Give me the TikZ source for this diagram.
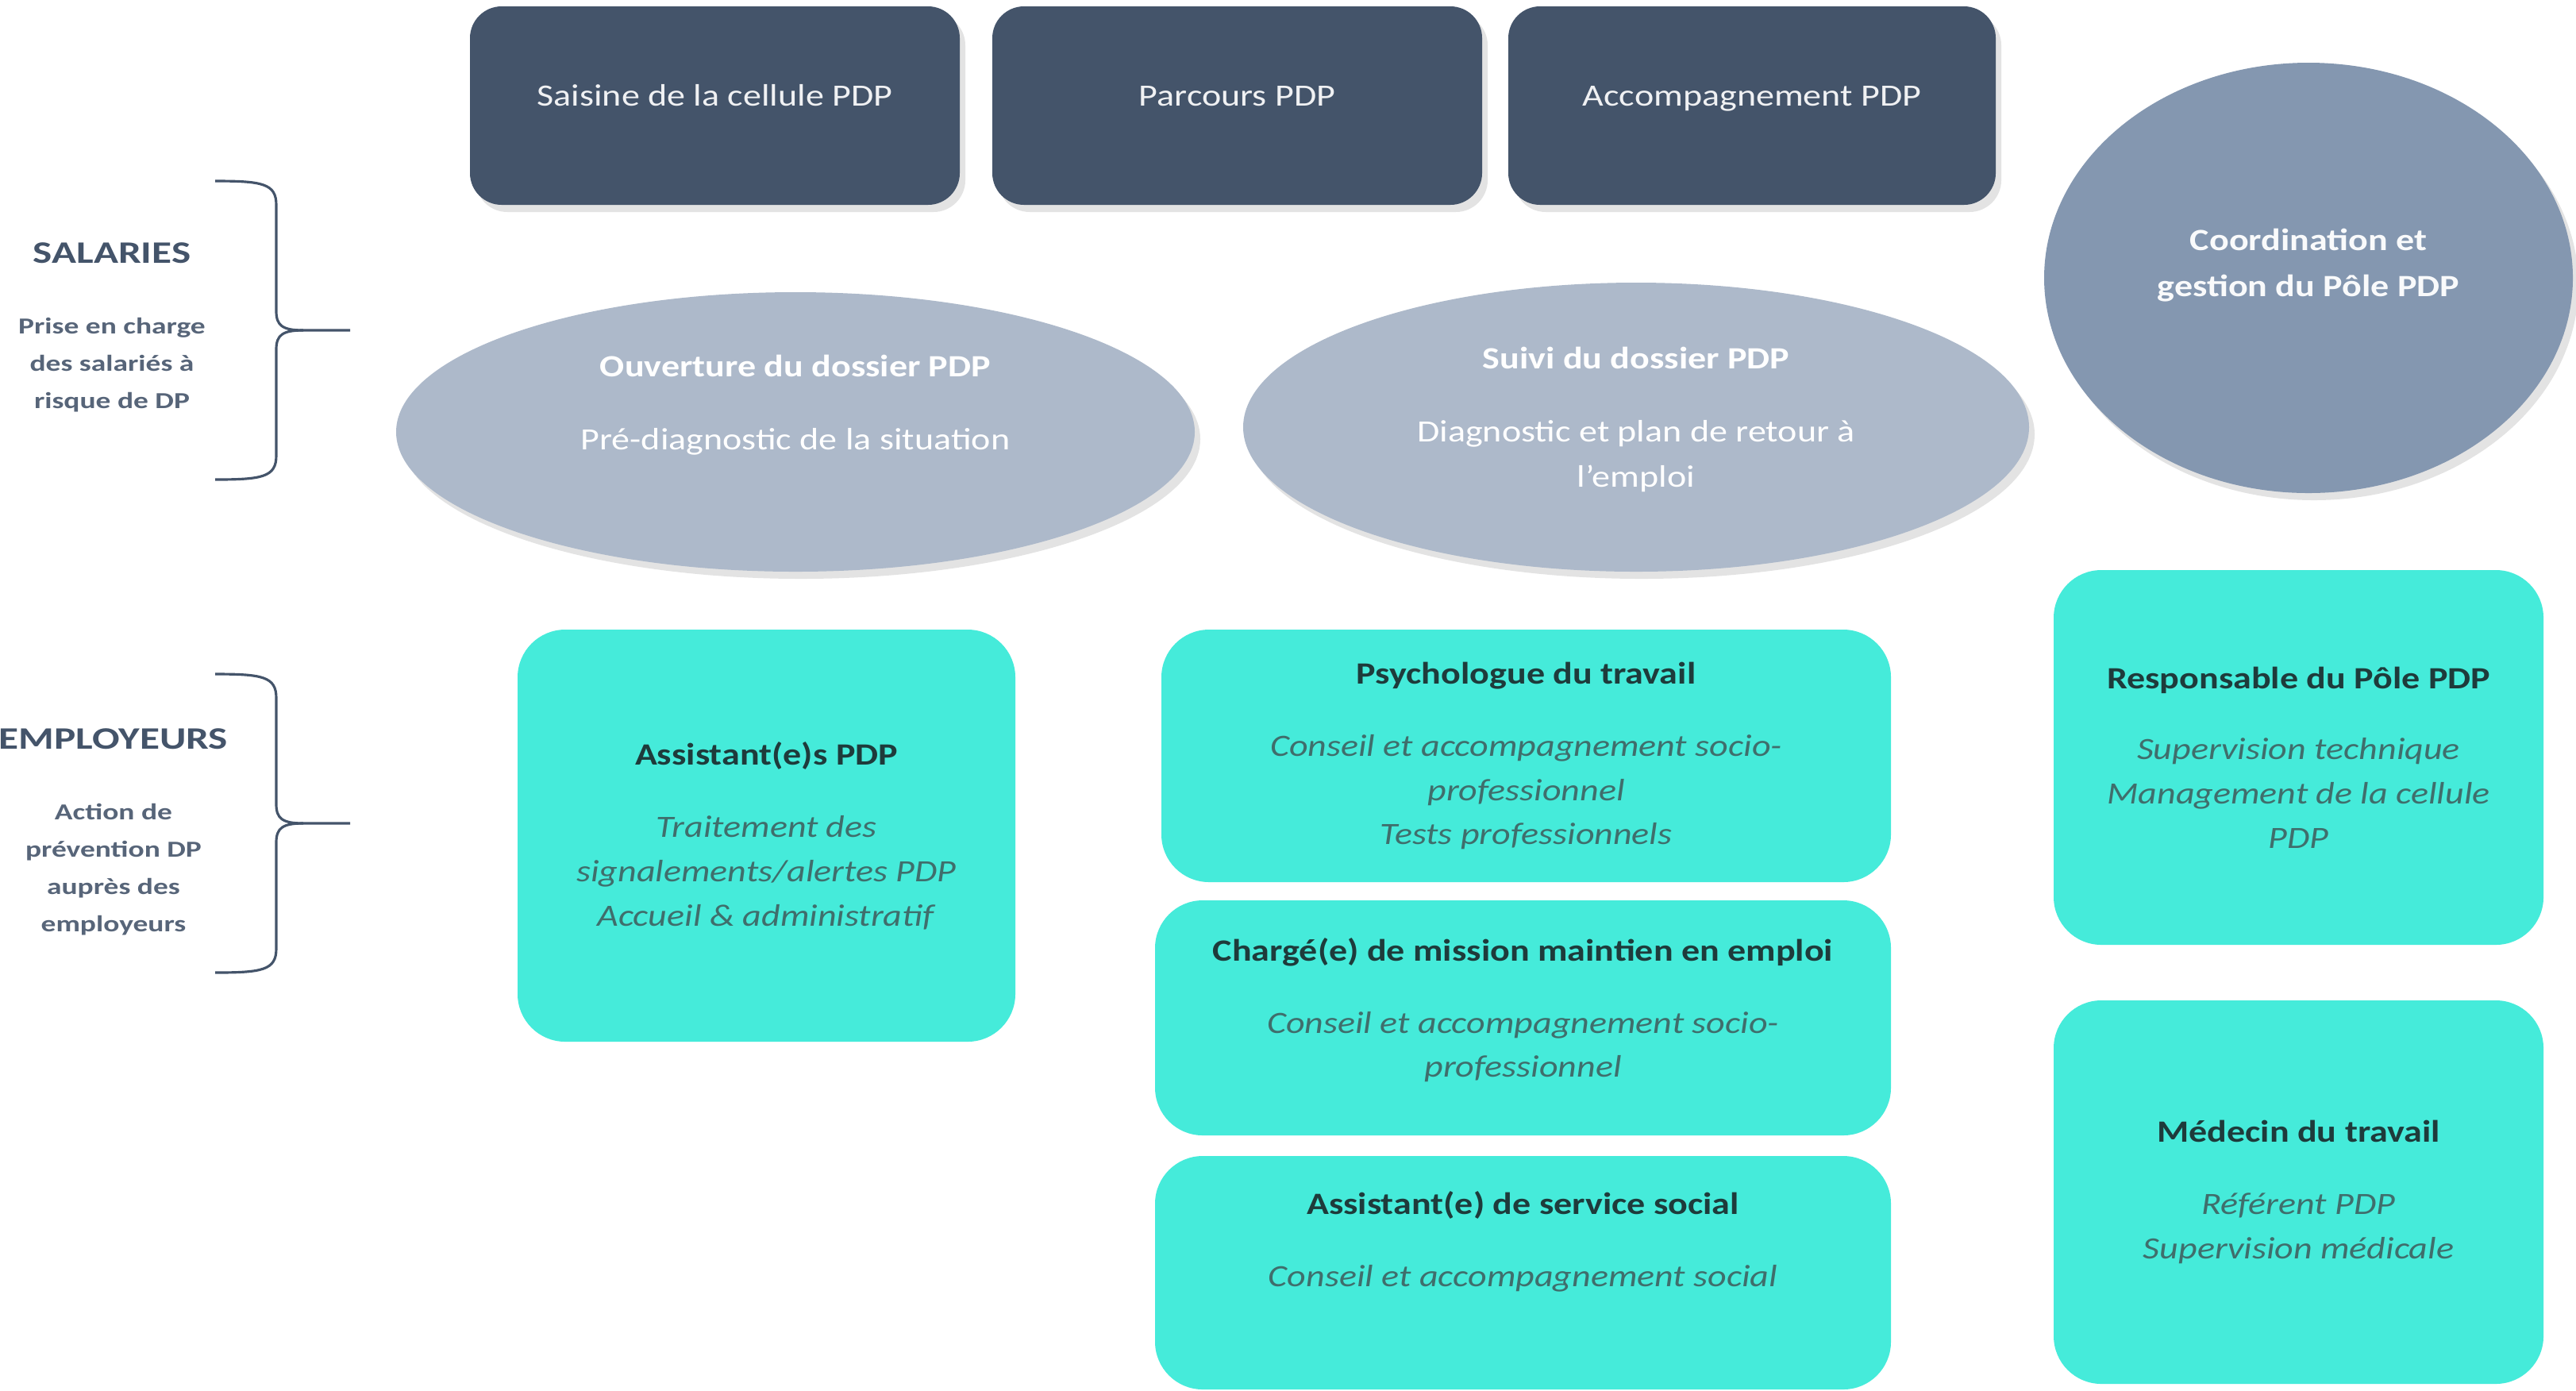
\documentclass[tikz,border=0pt]{standalone}
\usepackage{fontspec}
\setmainfont{Carlito}[FakeStretch=1.18]
\newfontfamily\sidefont{Carlito}[FakeStretch=1.3]
\usepackage{xcolor}
\definecolor{slatedark}{HTML}{44546A}
\definecolor{slatemid}{HTML}{8497B0}
\definecolor{slatelight}{HTML}{ADB9CA}
\definecolor{tealfill}{HTML}{45EBDA}
\definecolor{tealtitle}{HTML}{1E3B3B}
\definecolor{tealbody}{HTML}{3F6E6C}
\definecolor{sidetext}{HTML}{44546A}
\usepackage{tikz}
\usetikzlibrary{shapes.geometric,shadows,positioning}

\newcommand{\roletitle}[1]{\textcolor{tealtitle}{\bfseries #1}}

\tikzset{
  softshadow/.style={drop shadow={opacity=0.22, shadow xshift=0.07cm, shadow yshift=-0.09cm}},
  topbox/.style={rectangle, rounded corners=0.4cm, fill=slatedark, minimum width=6.17cm,
    minimum height=2.5cm, text height=0.3cm, text depth=0.3cm, text=white!92!slatedark,
    font=\fontsize{11.1}{15.9}\selectfont, softshadow},
  ovalbox/.style={ellipse, fill=slatelight, inner sep=0pt, softshadow},
  ovaltext/.style={align=center, text=white, font=\fontsize{11.1}{16.2}\selectfont},
  tealbox/.style={rectangle, rounded corners=0.6cm, fill=tealfill, align=center,
    text=tealbody, font=\fontsize{11.1}{15.9}\selectfont},
  sidehead/.style={text=sidetext, font=\sidefont\bfseries\fontsize{11.2}{14}\selectfont},
  sidesub/.style={align=center, text=sidetext!90!white, font=\sidefont\bfseries\fontsize{8.2}{13.4}\selectfont},
  bracketline/.style={draw=slatedark, line width=0.9pt}
}

\begin{document}
\begin{tikzpicture}
  \useasboundingbox[fill=white] (0,0) rectangle (32.45,-17.51);

  % Parcours headers
  \node[topbox] (saisine) at (9.005,-1.33) {Saisine de la cellule PDP};
  \node[topbox] (parcours) at (15.585,-1.33) {Parcours PDP};
  \node[topbox, minimum width=6.14cm] (accomp) at (22.07,-1.33) {Accompagnement PDP};

  % Dossier ovals
  \node[ovalbox, minimum width=10.06cm, minimum height=3.52cm] (ouverture) at (10.02,-5.44) {};
  \node[ovaltext] (ouverturetxt) at ([yshift=0.34cm]ouverture.center)
    {\textbf{Ouverture du dossier PDP}\\[0.35cm]Pré-diagnostic de la situation};
  \node[ovalbox, minimum width=9.90cm, minimum height=3.64cm] (suivi) at (20.61,-5.38) {};
  \node[ovaltext] (suivitxt) at ([yshift=0.10cm]suivi.center)
    {\textbf{Suivi du dossier PDP}\\[0.35cm]Diagnostic et plan de retour à\\l’emploi};

  % Coordination
  \node[ellipse, fill=slatemid, inner sep=0pt, minimum width=6.66cm, minimum height=5.42cm, softshadow]
    (coordination) at (29.08,-3.50) {};
  \node[ovaltext, text=white!95!slatemid, font=\bfseries\fontsize{11.1}{16.4}\selectfont]
    (coordinationtxt) at ([yshift=0.16cm]coordination.center) {Coordination et\\gestion du Pôle PDP};

  % Side labels
  \node[sidehead] (salaries) at (1.41,-3.19) {SALARIES};
  \node[sidesub, below=0.43cm of salaries] (salariessub) {Prise en charge\\des salariés à\\risque de DP};
  \node[sidehead] (employeurs) at (1.43,-9.31) {EMPLOYEURS};
  \node[sidesub, below=0.43cm of employeurs] (employeurssub) {Action de\\prévention DP\\auprès des\\employeurs};

  % Brackets
  \draw[bracketline] (2.71,-2.28) .. controls (3.30,-2.28) and (3.48,-2.31) .. (3.48,-2.58)
    -- (3.48,-3.92) .. controls (3.48,-4.10) and (3.56,-4.16) .. (3.82,-4.16) -- (4.41,-4.16);
  \draw[bracketline] (2.71,-6.04) .. controls (3.30,-6.04) and (3.48,-6.01) .. (3.48,-5.74)
    -- (3.48,-4.40) .. controls (3.48,-4.22) and (3.56,-4.16) .. (3.82,-4.16);
  \draw[bracketline] (2.71,-8.49) .. controls (3.30,-8.49) and (3.48,-8.52) .. (3.48,-8.79)
    -- (3.48,-10.13) .. controls (3.48,-10.31) and (3.56,-10.37) .. (3.82,-10.37) -- (4.41,-10.37);
  \draw[bracketline] (2.71,-12.25) .. controls (3.30,-12.25) and (3.48,-12.22) .. (3.48,-11.95)
    -- (3.48,-10.61) .. controls (3.48,-10.43) and (3.56,-10.37) .. (3.82,-10.37);

  % Intervenants
  \node[tealbox, minimum width=6.27cm, minimum height=5.19cm] (assistants) at (9.655,-10.525)
    {\roletitle{Assistant(e)s PDP}\\[0.35cm]\textit{Traitement des}\\\textit{signalements/alertes PDP}\\\textit{Accueil \& administratif}};
  \node[tealbox, minimum width=9.19cm, minimum height=3.18cm] (psychologue) at (19.225,-9.52)
    {\roletitle{Psychologue du travail}\\[0.35cm]\textit{Conseil et accompagnement socio-}\\\textit{professionnel}\\\textit{Tests professionnels}};
  \node[tealbox, minimum width=9.27cm, minimum height=2.96cm] (charge) at (19.185,-12.82)
    {\roletitle{Chargé(e) de mission maintien en emploi}\\[0.35cm]\textit{Conseil et accompagnement socio-}\\\textit{professionnel}\\[-0.3cm]\mbox{}};
  \node[tealbox, minimum width=9.27cm, minimum height=2.94cm] (social) at (19.185,-16.03)
    {\roletitle{Assistant(e) de service social}\\[0.35cm]\textit{Conseil et accompagnement social}\\[0.3cm]\mbox{}};
  \node[tealbox, minimum width=6.17cm, minimum height=4.72cm] (responsable) at (28.955,-9.54)
    {\roletitle{Responsable du Pôle PDP}\\[0.33cm]\textit{Supervision technique}\\\textit{Management de la cellule}\\\textit{PDP}};
  \node[tealbox, minimum width=6.17cm, minimum height=4.83cm] (medecin) at (28.955,-15.015)
    {\roletitle{Médecin du travail}\\[0.35cm]\textit{Référent PDP}\\\textit{Supervision médicale}};
\end{tikzpicture}
\end{document}
